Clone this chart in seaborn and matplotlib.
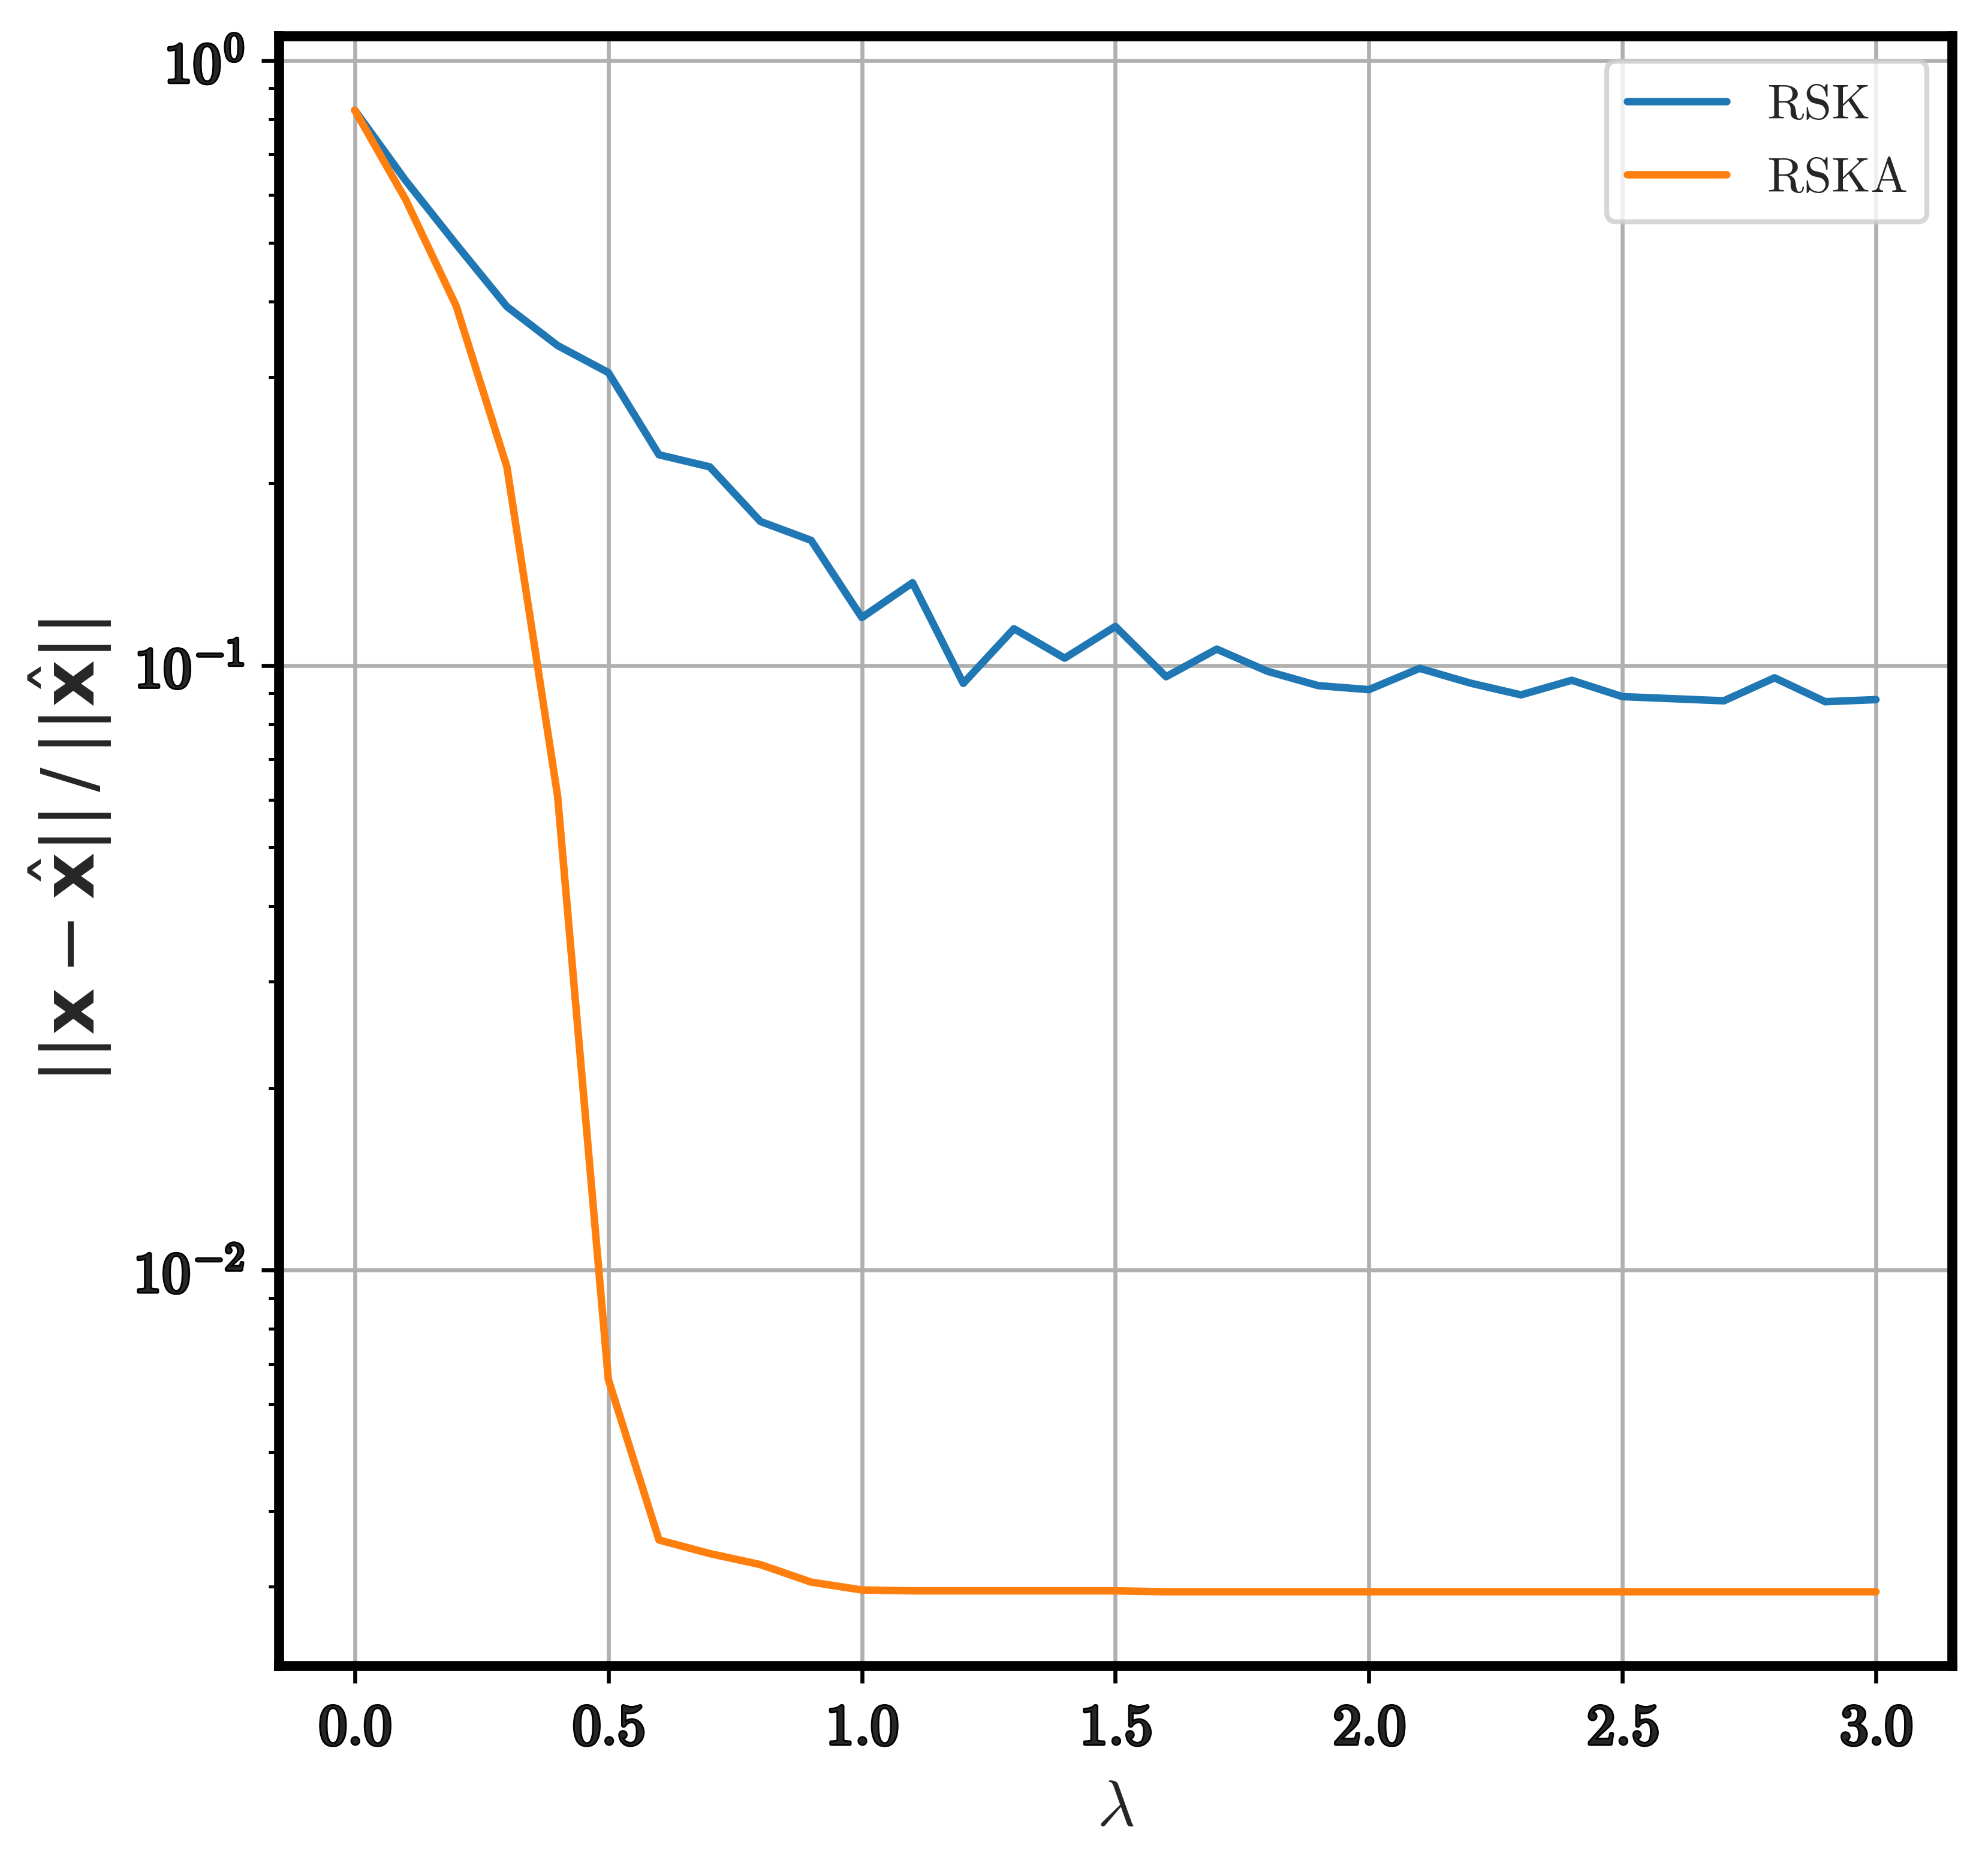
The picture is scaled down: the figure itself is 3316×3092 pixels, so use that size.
import math
import matplotlib
matplotlib.use("Agg")
import matplotlib.pyplot as plt
import matplotlib.ticker as mticker
import matplotlib.patheffects as pe
import seaborn as sns
import pandas as pd

# lambda values
lam = [0.0, 0.1, 0.2, 0.3, 0.4, 0.5, 0.6, 0.7, 0.8, 0.9, 1.0,
       1.1, 1.2, 1.3, 1.4, 1.5, 1.6, 1.7, 1.8, 1.9, 2.0,
       2.1, 2.2, 2.3, 2.4, 2.5, 2.6, 2.7, 2.8, 2.9, 3.0]

# relative error, RSK
rsk = [0.828, 0.634, 0.497, 0.392, 0.338, 0.305, 0.223, 0.213, 0.173, 0.161, 0.120,
       0.137, 0.0934, 0.115, 0.1028, 0.116, 0.0958, 0.1064, 0.0978, 0.0926, 0.0912,
       0.0989, 0.0935, 0.0894, 0.0945, 0.0888, 0.0881, 0.0874, 0.0954, 0.0871, 0.0878]

# relative error, RSKA
rska = [0.828, 0.590, 0.393, 0.213, 0.0608, 0.00660, 0.00358, 0.00340, 0.00326, 0.00305, 0.00296,
        0.00295, 0.00295, 0.00295, 0.00295, 0.00295, 0.00294, 0.00294, 0.00294, 0.00294, 0.00294,
        0.00294, 0.00294, 0.00294, 0.00294, 0.00294, 0.00294, 0.00294, 0.00294, 0.00294, 0.00294]

methods = ["RSK", "RSKA"]
colors = ["#1f77b4", "#ff7f0e"]

df = pd.DataFrame({"lam": lam * 2,
                   "err": rsk + rska,
                   "method": [methods[0]] * len(lam) + [methods[1]] * len(lam)})

sns.set_style("ticks")
plt.rcParams["mathtext.fontset"] = "cm"
plt.rcParams["font.family"] = ["DejaVu Serif"]

fig = plt.figure(figsize=(3316 / 600, 3092 / 600), dpi=600)
ax = fig.add_axes([0.1402, 0.1015, 0.8417, 0.879])

for m, c in zip(methods, colors):
    sub = df[df["method"] == m]
    sns.lineplot(data=sub, x="lam", y="err", color=c, linewidth=1.5,
                 label=r"$\mathrm{%s}$" % m, ax=ax)

ax.set_yscale("log")
ax.grid(True, which="major", color="#b0b0b0", linewidth=0.8)
ax.set_axisbelow(True)

for s in ax.spines.values():
    s.set_linewidth(2.0)
    s.set_color("black")

ax.xaxis.set_major_locator(mticker.MultipleLocator(0.5))
ax.xaxis.set_major_formatter(mticker.FuncFormatter(lambda v, p: r"$\mathbf{%.1f}$" % v))
ax.yaxis.set_major_locator(mticker.LogLocator(base=10))
ax.yaxis.set_major_formatter(mticker.FuncFormatter(
    lambda v, p: r"$\mathbf{10}^{%d}$" % round(math.log10(v))))
ax.tick_params(axis="both", which="major", labelsize=11.5, length=3.5, width=0.8,
               direction="out", color="black")
ax.tick_params(axis="y", which="minor", length=2, width=0.6, color="black")

fig.canvas.draw()
for lab in ax.get_xticklabels() + ax.get_yticklabels():
    lab.set_path_effects([pe.withStroke(linewidth=0.7, foreground="black")])

ax.set_xlabel(r"$\lambda$", fontsize=13)
ax.set_ylabel(r"$||\mathbf{x} - \hat{\mathbf{x}}||\,/\,||\hat{\mathbf{x}}||$",
              fontsize=14.5, math_fontfamily="dejavusans")

leg = ax.legend(loc="upper right", fontsize=10, frameon=True, fancybox=True,
                framealpha=0.8, edgecolor="0.8")

fig.savefig("out.png", dpi=600)
